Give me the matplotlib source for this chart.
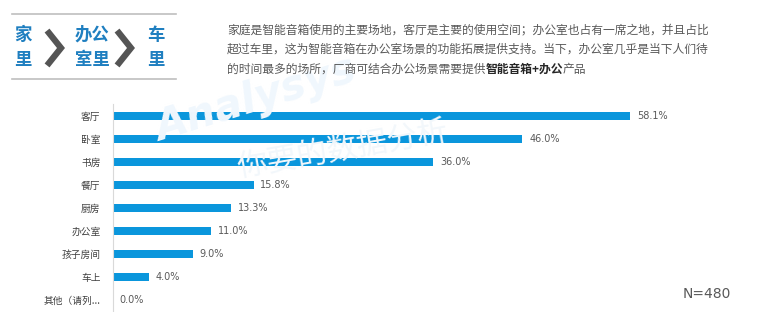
import matplotlib
matplotlib.use("Agg")
import matplotlib.pyplot as plt
from matplotlib.lines import Line2D

plt.rcParams['font.family'] = ['Noto Sans CJK SC', 'DejaVu Sans']

categories = ['客厅', '卧室', '书房', '餐厅', '厨房', '办公室', '孩子房间', '车上', '其他（请列...']
values = [58.1, 46.0, 36.0, 15.8, 13.3, 11.0, 9.0, 4.0, 0.0]
sample_note = 'N=480'

W, H = 767, 312
fig = plt.figure(figsize=(W / 100, H / 100), dpi=100)

def fx(px):
    return px / W

def fy(py):
    return 1 - py / H

# faint watermark (behind everything)
fig.text(fx(150), fy(100), 'Analysys', fontsize=30, color='#f0f7fd', rotation=17,
         ha='left', va='center', style='italic', fontweight='bold', zorder=0, family='DejaVu Sans')
fig.text(fx(235), fy(150), '你要的数据分析', fontsize=22, color='#f2f7fb', rotation=10,
         ha='left', va='center', zorder=0)

# bar chart area
ax = fig.add_axes([fx(113), 0, fx(560), fy(104)])
ax.patch.set_alpha(0)
ypos = list(range(len(categories)))
ax.barh(ypos, values, height=0.36, color='#0a96dc')
ax.set_xlim(0, 560 / 8.9)
ax.set_ylim(8.52, -0.52)
ax.set_yticks(ypos)
ax.set_yticklabels(categories, fontsize=7, color='#404040')
ax.tick_params(axis='y', length=0, pad=9)
ax.set_xticks([])
for s in ['top', 'right', 'bottom']:
    ax.spines[s].set_visible(False)
ax.spines['left'].set_color('#d9d9d9')
ax.spines['left'].set_linewidth(0.8)
for y, v in zip(ypos, values):
    ax.text(v + 0.75, y, f'{v:.1f}%', va='center', ha='left', fontsize=7, color='#595959',
            family='DejaVu Sans')

# header block
for py in (14, 79):
    fig.add_artist(Line2D([fx(12), fx(176)], [fy(py), fy(py)], color='#bfbfbf', lw=1.2))

blue = '#1f7fc0'
fig.text(fx(23), fy(35), '家', fontsize=12.5, color=blue, fontweight='bold', ha='center', va='center')
fig.text(fx(23), fy(60), '里', fontsize=12.5, color=blue, fontweight='bold', ha='center', va='center')
fig.text(fx(92), fy(35), '办公', fontsize=12.5, color=blue, fontweight='bold', ha='center', va='center')
fig.text(fx(92), fy(60), '室里', fontsize=12.5, color=blue, fontweight='bold', ha='center', va='center')
fig.text(fx(156), fy(35), '车', fontsize=12.5, color=blue, fontweight='bold', ha='center', va='center')
fig.text(fx(156), fy(60), '里', fontsize=12.5, color=blue, fontweight='bold', ha='center', va='center')

for x0 in (49, 119):
    fig.add_artist(Line2D([fx(x0), fx(x0 + 12), fx(x0)], [fy(33), fy(48), fy(63)],
                          color='#555555', lw=4.5, solid_joinstyle='miter'))

# description paragraph
gray = '#595959'
lines = ['家庭是智能音箱使用的主要场地，客厅是主要的使用空间；办公室也占有一席之地，并且占比',
         '超过车里，这为智能音箱在办公室场景的功能拓展提供支持。当下，办公室几乎是当下人们待']
for i, t in enumerate(lines):
    fig.text(fx(227), fy(30 + 19.5 * i), t, fontsize=8.5, color=gray, ha='left', va='center')

part1 = fig.text(fx(227), fy(69), '的时间最多的场所，厂商可结合办公场景需要提供', fontsize=8.5,
                 color=gray, ha='left', va='center')
fig.canvas.draw()
r = fig.canvas.get_renderer()
bb = part1.get_window_extent(r)
part2 = fig.text(bb.x1 / W, fy(69), '智能音箱+办公', fontsize=8.5, color='#262626',
                 fontweight='bold', ha='left', va='center')
bb2 = part2.get_window_extent(r)
fig.text(bb2.x1 / W, fy(69), '产品', fontsize=8.5, color=gray, ha='left', va='center')

fig.text(fx(683), fy(294), sample_note, fontsize=10, color=gray, ha='left', va='center',
         family='DejaVu Sans')

fig.savefig('out.png', dpi=100, facecolor='white')
